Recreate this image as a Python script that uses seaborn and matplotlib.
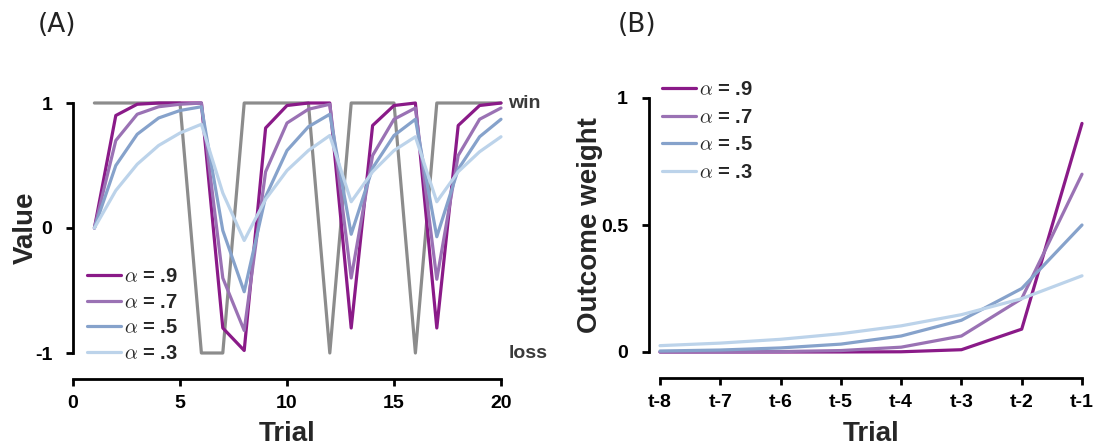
import matplotlib
matplotlib.use("Agg")
import matplotlib.pyplot as plt
import numpy as np
import pandas as pd
import seaborn as sns

# ---- data -------------------------------------------------------------
trials = list(range(1, 21))
outcome = [1, 1, 1, 1, 1, -1, -1, 1, 1, 1, 1, -1, 1, 1, 1, -1, 1, 1, 1, 1]

alpha_labels = [r"$\alpha$ = .9", r"$\alpha$ = .7", r"$\alpha$ = .5", r"$\alpha$ = .3"]

value_a9 = [0.00, 0.90, 0.99, 1.00, 1.00, 1.00, -0.80, -0.98, 0.80, 0.98,
            1.00, 1.00, -0.80, 0.82, 0.98, 1.00, -0.80, 0.82, 0.98, 1.00]
value_a7 = [0.00, 0.70, 0.91, 0.97, 0.99, 1.00, -0.40, -0.82, 0.45, 0.84,
            0.95, 0.99, -0.40, 0.58, 0.87, 0.96, -0.41, 0.58, 0.87, 0.96]
value_a5 = [0.00, 0.50, 0.75, 0.88, 0.94, 0.97, -0.02, -0.51, 0.25, 0.62,
            0.81, 0.91, -0.05, 0.48, 0.74, 0.87, -0.07, 0.47, 0.73, 0.87]
value_a3 = [0.00, 0.30, 0.51, 0.66, 0.76, 0.83, 0.28, -0.10, 0.23, 0.46,
            0.62, 0.74, 0.21, 0.45, 0.62, 0.73, 0.21, 0.45, 0.61, 0.73]

lag_labels = ["t-8", "t-7", "t-6", "t-5", "t-4", "t-3", "t-2", "t-1"]
weight_a9 = [0.0000, 0.0000, 0.0000, 0.0001, 0.0009, 0.009, 0.09, 0.90]
weight_a7 = [0.0002, 0.0005, 0.0017, 0.0057, 0.019, 0.063, 0.21, 0.70]
weight_a5 = [0.0039, 0.0078, 0.016, 0.031, 0.063, 0.125, 0.25, 0.50]
weight_a3 = [0.025, 0.035, 0.050, 0.072, 0.103, 0.147, 0.21, 0.30]

palette = ["#8a1a88", "#9a72b4", "#86a2cb", "#bcd3ea"]
outcome_color = "#8c8c8c"

# ---- long-form tables --------------------------------------------------
values_df = pd.concat([
    pd.DataFrame({"Trial": trials, "Value": v, "alpha": lab})
    for v, lab in zip([value_a9, value_a7, value_a5, value_a3], alpha_labels)
], ignore_index=True)

lag_pos = list(range(len(lag_labels)))
weights_df = pd.concat([
    pd.DataFrame({"lag": lag_pos, "weight": w, "alpha": lab})
    for w, lab in zip([weight_a9, weight_a7, weight_a5, weight_a3], alpha_labels)
], ignore_index=True)

outcome_df = pd.DataFrame({"Trial": trials, "outcome": outcome})

# ---- style --------------------------------------------------------------
sns.set_style("ticks")
plt.rcParams["font.family"] = ["Liberation Sans", "DejaVu Sans"]
plt.rcParams["font.weight"] = "bold"
plt.rcParams["axes.labelweight"] = "bold"
plt.rcParams["mathtext.fontset"] = "cm"

W, H = 1097, 446
fig = plt.figure(figsize=(W / 100, H / 100), dpi=100)


def frac(x0, y_top, x1, y_bot):
    return [x0 / W, 1 - y_bot / H, (x1 - x0) / W, (y_bot - y_top) / H]


axA = fig.add_axes(frac(73, 103, 501, 353))
axB = fig.add_axes(frac(660, 98, 1082, 352))

LW = 2.3
SPINE_LW = 2.0
TICK_FS = 14
LABEL_FS = 20
LEG_FS = 14.5

# ---- panel A -------------------------------------------------------------
sns.lineplot(data=outcome_df, x="Trial", y="outcome", color=outcome_color,
             lw=LW, ax=axA, legend=False, zorder=1)
sns.lineplot(data=values_df, x="Trial", y="Value", hue="alpha",
             hue_order=alpha_labels, palette=palette, lw=LW, ax=axA, zorder=2)
for ln in axA.get_lines():
    ln.set_clip_on(False)

axA.set_xlim(0, 20)
axA.set_ylim(-1, 1)
axA.set_xticks([0, 5, 10, 15, 20])
axA.set_yticks([-1, 0, 1])
axA.set_yticklabels(["-1", "0", "1"])
axA.set_xlabel("Trial", fontsize=LABEL_FS)
axA.set_ylabel("Value", fontsize=LABEL_FS)
axA.xaxis.set_label_coords(0.5, -0.272)
axA.yaxis.set_label_coords(-0.079, 0.5)
axA.text(20.35, 1, "win", color="#3a3a3a", fontsize=14, va="center", ha="left")
axA.text(20.35, -1, "loss", color="#3a3a3a", fontsize=14, va="center", ha="left")
sns.move_legend(axA, "lower left", bbox_to_anchor=(0.033, -0.04), title=None,
                frameon=False, fontsize=LEG_FS, handlelength=1.7, handletextpad=0.15,
                labelspacing=0.33, borderaxespad=0, borderpad=0)

# ---- panel B -------------------------------------------------------------
sns.lineplot(data=weights_df, x="lag", y="weight", hue="alpha",
             hue_order=alpha_labels, palette=palette, lw=LW, ax=axB)
for ln in axB.get_lines():
    ln.set_clip_on(False)

axB.set_xlim(0, len(lag_labels) - 1)
axB.set_ylim(0, 1)
axB.set_xticks(lag_pos)
axB.set_xticklabels(lag_labels)
axB.set_yticks([0, 0.5, 1])
axB.set_yticklabels(["0", "0.5", "1"])
axB.set_xlabel("Trial", fontsize=LABEL_FS)
axB.set_ylabel("Outcome weight", fontsize=LABEL_FS)
axB.xaxis.set_label_coords(0.5, -0.272)
axB.yaxis.set_label_coords(-0.135, 0.5)
sns.move_legend(axB, "upper left", bbox_to_anchor=(0.005, 1.07), title=None,
                frameon=False, fontsize=LEG_FS, handlelength=1.7, handletextpad=0.15,
                labelspacing=0.42, borderaxespad=0, borderpad=0)

# ---- spines & ticks ------------------------------------------------------
for ax, xb, yb, left_off in [(axA, (0, 20), (-1, 1), 0),
                             (axB, (0, len(lag_labels) - 1), (0, 1), 8)]:
    sns.despine(ax=ax)
    ax.spines["bottom"].set_position(("outward", 19))
    ax.spines["left"].set_position(("outward", left_off))
    ax.spines["bottom"].set_bounds(*xb)
    ax.spines["left"].set_bounds(*yb)
    for s in ("bottom", "left"):
        ax.spines[s].set_linewidth(SPINE_LW)
        ax.spines[s].set_color("black")
    ax.tick_params(axis="both", direction="out", length=5, width=SPINE_LW,
                   labelsize=TICK_FS, colors="black")
    ax.tick_params(axis="x", pad=6)
    ax.tick_params(axis="y", pad=10)
    for lab in ax.get_xticklabels() + ax.get_yticklabels():
        lab.set_fontweight("bold")

# ---- panel tags ------------------------------------------------------------
fig.text(57 / W, 1 - 25 / H, "(A)", fontsize=19, family=["DejaVu Sans"],
         fontweight="normal", color="#222222", va="center", ha="center")
fig.text(637 / W, 1 - 25 / H, "(B)", fontsize=19, family=["DejaVu Sans"],
         fontweight="normal", color="#222222", va="center", ha="center")

fig.savefig("out.png", dpi=100)
